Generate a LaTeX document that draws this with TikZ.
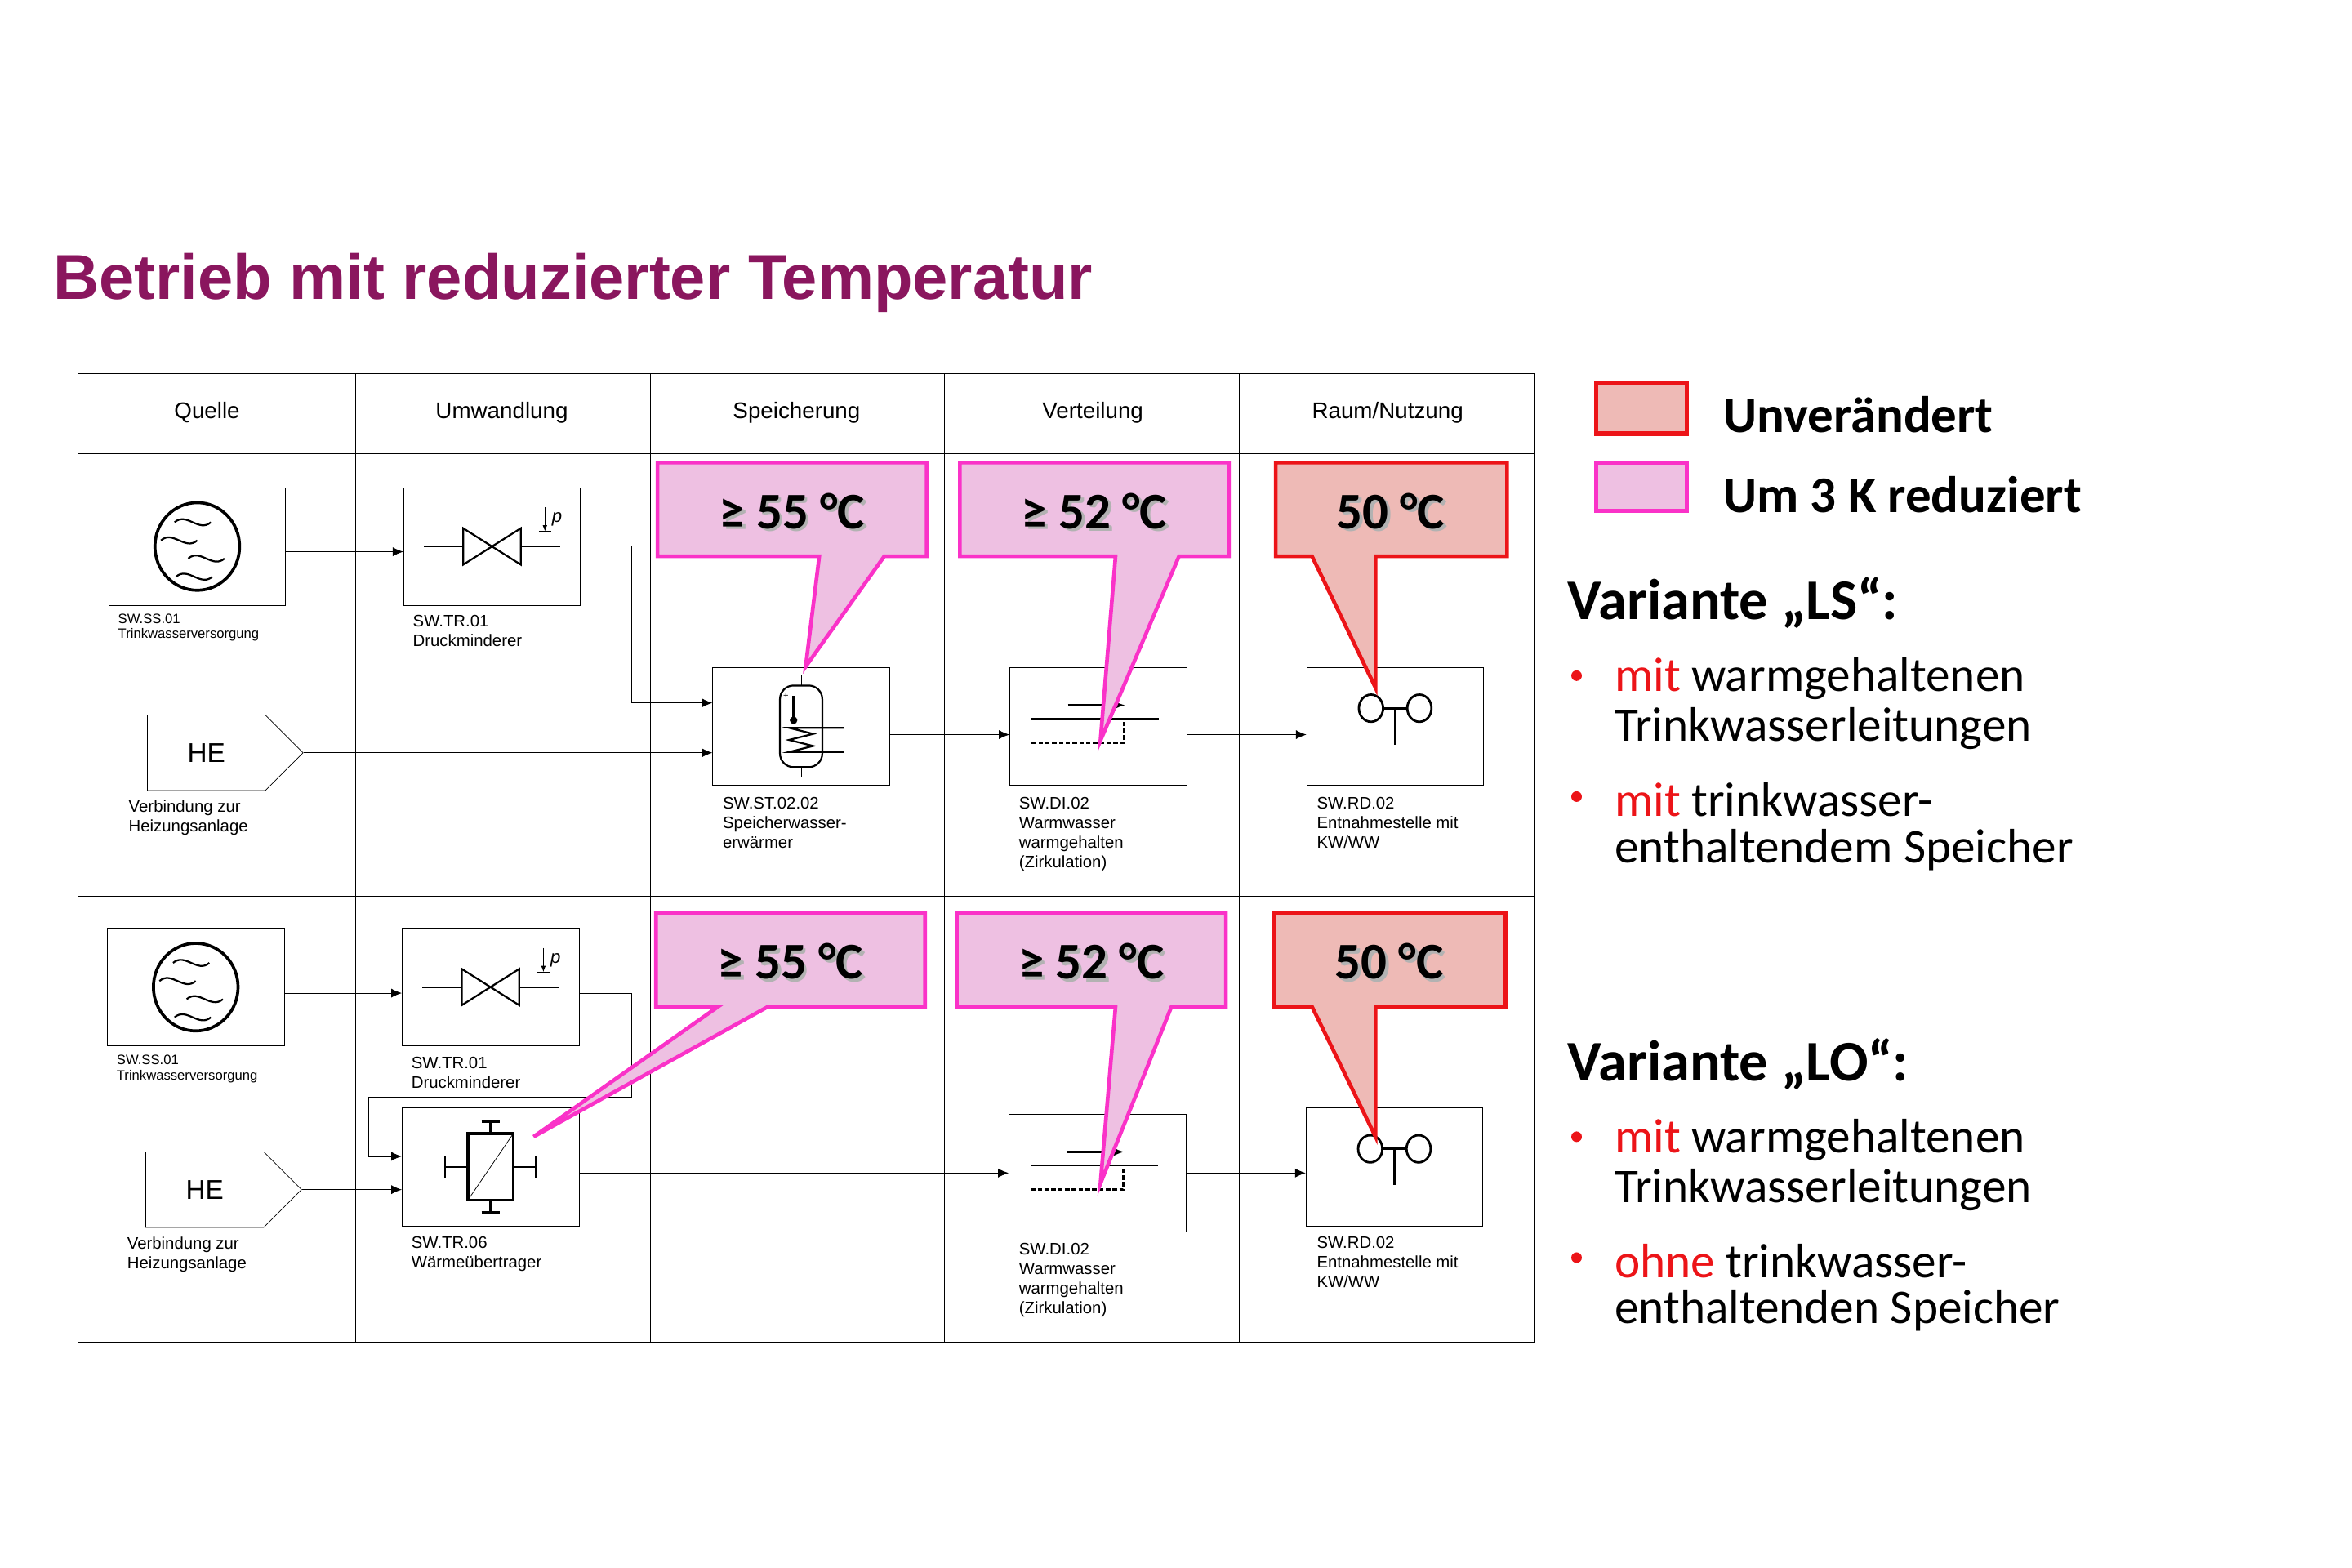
\documentclass[tikz,border=0pt]{standalone}
\usepackage{fontspec}
\setmainfont{Liberation Sans}
\newfontfamily\calfont{Carlito}
\usepackage{tikz}
\usetikzlibrary{arrows.meta,shapes.geometric,shapes.symbols}
\definecolor{titlepurple}{RGB}{138,22,94}
\definecolor{pinkfill}{RGB}{238,192,226}
\definecolor{pinkline}{RGB}{250,50,200}
\definecolor{redfill}{RGB}{238,186,182}
\definecolor{redline}{RGB}{236,20,24}
\tikzset{
  comp/.style={draw, minimum width=117pt, minimum height=78pt, inner sep=0pt},
  lbl/.style={anchor=north west, align=left, inner sep=0pt, font=\fontsize{11}{13}\selectfont},
  flow/.style={-{Latex[length=7pt,width=6pt]}},
  pinkbox/.style={fill=pinkfill, draw=pinkline, line width=2.5pt, line join=miter},
  redbox/.style={fill=redfill, draw=redline, line width=2.5pt, line join=miter},
  temp/.style={font=\calfont\bfseries\fontsize{34}{34}\selectfont},
  legend/.style={anchor=west, inner sep=0pt, font=\calfont\fontsize{32}{32}\selectfont},
  pics/source/.style={code={
    \draw[line width=2pt] (0,0) ellipse (28pt and 29pt);
    \foreach \y/\x in {-16/-3,-4/-12,8/6,20/-2}
      \draw[line width=1.2pt] (\x-12,\y) .. controls (\x-4,\y-7) and (\x+4,\y+7) .. (\x+12,\y);
  }},
  pics/valve/.style={code={
    \draw[line width=1.2pt] (-45,0) -- (-19,0) (19,0) -- (45,0);
    \draw[line width=1.2pt] (-19,-12) -- (-19,12) -- (19,-12) -- (19,12) -- cycle;
    \draw[-{Latex[length=4pt]}] (35,-26) -- (35,-10);
    \draw (31,-10) -- (39,-10);
    \node at (43,-18) {\itshape\fontsize{12}{12}\selectfont p};
  }},
  pics/tank/.style={code={
    \draw[line width=1.2pt, rounded corners=9pt] (-14,-27) rectangle (14,27);
    \draw (0,-27) -- (0,-34) (0,27) -- (0,34);
    \fill (-6,-20) rectangle (-4,-6); \fill (-5,-4) circle (2.5pt);
    \node at (-10,-20) {\fontsize{6}{6}\selectfont +};
    \draw[line width=1.2pt] (28,1) -- (-8,1) -- (8,5) -- (-8,9) -- (8,13) -- (-8,17) -- (28,17);
  }},
  pics/exchanger/.style={code={
    \draw[line width=2pt] (-15,-22) rectangle (15,22);
    \draw (-15,22) -- (15,-22);
    \draw[line width=1.5pt] (0,-22) -- (0,-30) (-6,-30) -- (6,-30)
      (0,22) -- (0,30) (-6,30) -- (6,30)
      (-15,0) -- (-30,0) (-30,-7) -- (-30,7)
      (15,0) -- (30,0) (30,-7) -- (30,7);
  }},
  pics/circulation/.style={code={
    \draw[line width=1.5pt, -{Latex[length=7pt]}] (-20,-14) -- (18,-14);
    \draw[line width=1.5pt] (-44,-5) -- (40,-5);
    \draw[line width=1.5pt, dash pattern=on 3pt off 1.5pt] (-44,11) -- (17,11) -- (17,-5);
  }},
  pics/tap/.style={code={
    \draw[line width=1.5pt] (-16,-12) ellipse (8pt and 9pt) (16,-12) ellipse (8pt and 9pt);
    \draw[line width=1.5pt] (-8,-12) -- (8,-12) (0,-12) -- (0,12);
  }}
}
\begin{document}
\begin{tikzpicture}[x=1pt,y=-1pt]
\useasboundingbox (0,0) rectangle (1556,1037);
\node[anchor=west, inner sep=0pt, text=titlepurple, font=\bfseries\fontsize{42}{42}\selectfont] (title) at (35,187) {Betrieb mit reduzierter Temperatur};

% table
\foreach \y in {247,300,593,888} \draw (52,\y) -- (1015,\y);
\foreach \x in {235,430,625,820,1015} \draw (\x,247) -- (\x,888);
\foreach \x/\t in {137/Quelle,332/Umwandlung,527/Speicherung,723/Verteilung,918/{Raum/Nutzung}}
  \node[font=\fontsize{15}{15}\selectfont] at (\x,273) {\t};

% upper row
\node[comp] (ssA) at (130.5,361.5) {};
\pic at (ssA) {source};
\node[lbl, font=\fontsize{9}{10}\selectfont] (ssAl) at (78,406) {SW.SS.01\\Trinkwasserversorgung};
\node[comp] (trA) at (325.5,361.5) {};
\pic at (trA) {valve};
\node[lbl] (trAl) at (273,407) {SW.TR.01\\Druckminderer};
\node[draw, signal, signal to=east, minimum width=103pt, minimum height=50pt, inner sep=0pt,
  font=\fontsize{18}{18}\selectfont] (heA) at (136.5,498) {HE};
\node[lbl] (heAl) at (85,529) {Verbindung zur\\Heizungsanlage};
\node[comp] (stA) at (530,480.5) {};
\pic at (stA) {tank};
\node[lbl] (stAl) at (478,527) {SW.ST.02.02\\Speicherwasser-\\erwärmer};
\node[comp] (diA) at (726.5,480.5) {};
\pic at (diA) {circulation};
\node[lbl] (diAl) at (674,527) {SW.DI.02\\Warmwasser\\warmgehalten\\(Zirkulation)};
\node[comp] (rdA) at (923,480.5) {};
\pic at (rdA) {tap};
\node[lbl] (rdAl) at (871,527) {SW.RD.02\\Entnahmestelle mit\\KW/WW};

\draw[flow] (ssA.east |- 0,365) -- (trA.west |- 0,365);
\draw[flow] (trA.east |- 0,361) -| (418,465) -- (stA.west |- 0,465);
\draw[flow] (heA.east) -- (stA.west |- heA.east);
\draw[flow] (stA.east |- 0,486) -- (diA.west |- 0,486);
\draw[flow] (diA.east |- 0,486) -- (rdA.west |- 0,486);

% lower row
\node[comp] (ssB) at (129.5,653) {};
\pic at (ssB) {source};
\node[lbl, font=\fontsize{9}{10}\selectfont] (ssBl) at (77,698) {SW.SS.01\\Trinkwasserversorgung};
\node[comp] (trB) at (324.5,653) {};
\pic at (trB) {valve};
\node[lbl] (trBl) at (272,699) {SW.TR.01\\Druckminderer};
\node[draw, signal, signal to=east, minimum width=103pt, minimum height=50pt, inner sep=0pt,
  font=\fontsize{18}{18}\selectfont] (heB) at (135.5,787) {HE};
\node[lbl] (heBl) at (84,818) {Verbindung zur\\Heizungsanlage};
\node[comp] (weB) at (324.5,772) {};
\pic at (weB) {exchanger};
\node[lbl] (weBl) at (272,818) {SW.TR.06\\Wärmeübertrager};
\node[comp] (diB) at (726,776) {};
\pic at (diB) {circulation};
\node[lbl] (diBl) at (674,822) {SW.DI.02\\Warmwasser\\warmgehalten\\(Zirkulation)};
\node[comp] (rdB) at (922.5,772) {};
\pic at (rdB) {tap};
\node[lbl] (rdBl) at (871,818) {SW.RD.02\\Entnahmestelle mit\\KW/WW};

\draw[flow] (ssB.east |- 0,657) -- (trB.west |- 0,657);
\draw[flow] (trB.east |- 0,657) -| (418,726) -| (244,765) -- (weB.west |- 0,765);
\draw[flow] (heB.east) -- (weB.west |- heB.east);
\draw[flow] (weB.east |- 0,776) -- (diB.west |- 0,776);
\draw[flow] (diB.east |- 0,776) -- (rdB.west |- 0,776);

% callouts
\draw[pinkbox] (435,306) -- (613,306) -- (613,368) -- (585,368) -- (533,441) -- (542,368) -- (435,368) -- cycle;
\draw[pinkbox] (635,306) -- (813,306) -- (813,368) -- (780,368) -- (728,490) -- (738,368) -- (635,368) -- cycle;
\draw[redbox] (844,306) -- (997,306) -- (997,368) -- (910,368) -- (910,455) -- (868,368) -- (844,368) -- cycle;
\draw[pinkbox] (434,604) -- (612,604) -- (612,666) -- (508,666) -- (353,752) -- (475,666) -- (434,666) -- cycle;
\draw[pinkbox] (633,604) -- (811,604) -- (811,666) -- (775,666) -- (728,783) -- (738,666) -- (633,666) -- cycle;
\draw[redbox] (843,604) -- (996,604) -- (996,666) -- (910,666) -- (910,752) -- (868,666) -- (843,666) -- cycle;
\foreach \x/\y/\t/\n in {524/338/{≥ 55 °C}/tA, 724/338/{≥ 52 °C}/tB, 920/338/{50 °C}/tC,
    523/636/{≥ 55 °C}/tD, 722/636/{≥ 52 °C}/tE, 919/636/{50 °C}/tF} {
  \node[temp, text=black!30] at (\x+2,\y+2) {\t};
  \node[temp] (\n) at (\x,\y) {\t};
}

% legend
\draw[redbox, line width=3pt] (1056,253) rectangle (1116,287);
\node[legend, font=\calfont\bfseries\fontsize{34}{34}\selectfont] (lgA) at (1140,274) {Unverändert};
\draw[pinkbox, line width=3pt] (1056,306) rectangle (1116,338);
\node[legend, font=\calfont\bfseries\fontsize{34}{34}\selectfont] (lgB) at (1140,327) {Um 3 K reduziert};

\node[legend, font=\calfont\bfseries\fontsize{38}{38}\selectfont] (vLS) at (1037,399) {Variante „LS“:};
\node[legend] (l1) at (1068,449) {\textcolor{redline}{mit} warmgehaltenen};
\node[legend] (l2) at (1068,482) {Trinkwasserleitungen};
\node[legend] (l3) at (1068,529) {\textcolor{redline}{mit} trinkwasser-};
\node[legend] (l4) at (1068,562) {enthaltendem Speicher};
\node[legend, font=\calfont\bfseries\fontsize{38}{38}\selectfont] (vLO) at (1037,704) {Variante „LO“:};
\node[legend] (l5) at (1068,754) {\textcolor{redline}{mit} warmgehaltenen};
\node[legend] (l6) at (1068,787) {Trinkwasserleitungen};
\node[legend] (l7) at (1068,834) {\textcolor{redline}{ohne} trinkwasser-};
\node[legend] (l8) at (1068,867) {enthaltenden Speicher};
\foreach \y in {447,527,752,832} \fill[redline] (1043,\y) circle (3.5pt);
\end{tikzpicture}
\end{document}
